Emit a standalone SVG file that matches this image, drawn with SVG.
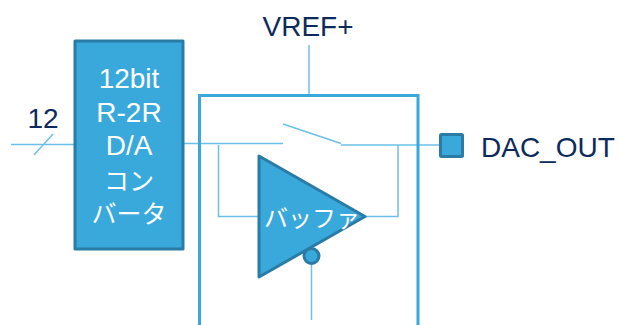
<svg xmlns="http://www.w3.org/2000/svg" width="619" height="325" viewBox="0 0 619 325">
<style>
.w{fill:none;stroke:#6cc0e8;stroke-width:1.5}
.s{fill:#39a9dc;stroke:#2a7ca6;stroke-width:3;stroke-linejoin:round}
.t{font-family:"Liberation Sans","Noto Sans CJK JP",sans-serif;font-size:28px}
.k{font-size:25px}
.l{fill:#fff;text-anchor:middle}
.d{fill:#0d2a5c}
</style>
<g id="connectors">
<path class="w" d="M11 144.500H75"/>
<path class="w" d="M34 155L53 134"/>
<path class="w" d="M184 143.500H283"/>
<path class="w" d="M283 124L341 143.500"/>
<path class="w" d="M341 145H440"/>
<path class="w" d="M218.500 145V216.500H259"/>
<path class="w" d="M398 145V216.500H365"/>
<path class="w" d="M309 45V95"/>
<path class="w" d="M311.500 263V320"/>
</g>
<g id="frame"><path d="M199.500 325V95.500H418V325" fill="none" stroke="#39a9dc" stroke-width="3"/></g>
<g id="converter">
<rect class="s" x="75" y="41" width="108" height="208"/>
<text class="t l" x="129" y="88">12bit</text>
<text class="t l" x="129" y="122">R-2R</text>
<text class="t l" x="129" y="155">D/A</text>
<text class="t l k" x="129" y="190">コン</text>
<text class="t l k" x="129" y="223">バータ</text>
</g>
<g id="buffer">
<circle cx="311.500" cy="256" r="7.500" fill="#39a9dc" stroke="#2a7ca6" stroke-width="3"/>
<path class="s" d="M259 156V277L365 216.500Z"/>
<text class="t l" x="312" y="227" style="font-size:24px">バッファ</text>
</g>
<g id="dac-out">
<rect class="s" x="440.500" y="134.500" width="22" height="22" rx="1"/>
<text class="t d" x="481" y="157">DAC_OUT</text>
</g>
<g id="vref"><text class="t d" x="308" y="36" text-anchor="middle">VREF+</text></g>
<g id="bus-width"><text class="t d" x="43" y="128" text-anchor="middle">12</text></g>
</svg>
